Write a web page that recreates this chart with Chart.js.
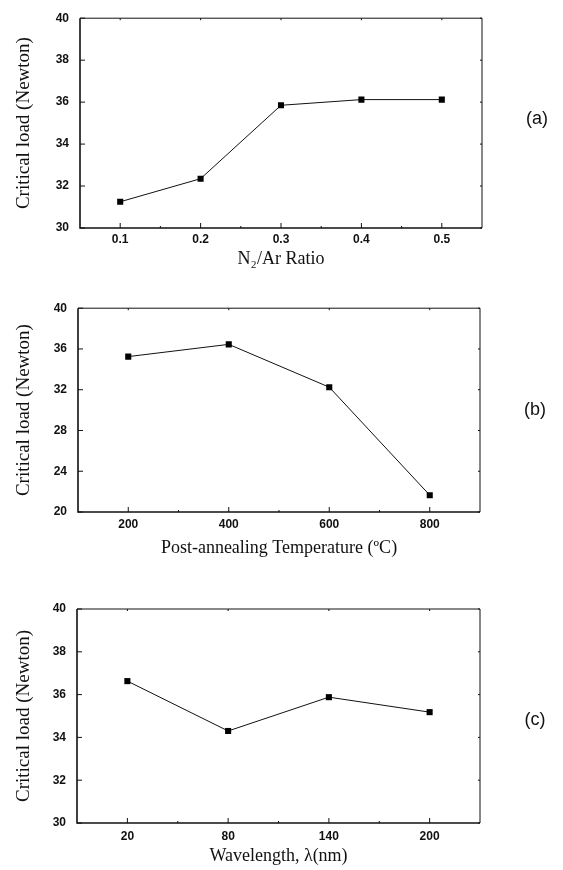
<!DOCTYPE html>
<html>
<head>
<meta charset="utf-8">
<script src="https://cdn.jsdelivr.net/npm/chart.js@4.4.1/dist/chart.umd.min.js"></script>
<style>
  body { margin: 0; background: #fff; }
  .panel { position: absolute; left: 0; width: 563px; height: 290px; }
</style>
</head>
<body>
<canvas id="chart-a" class="panel" width="563" height="290" style="top:0"></canvas>
<canvas id="chart-b" class="panel" width="563" height="290" style="top:290px"></canvas>
<canvas id="chart-c" class="panel" width="563" height="290" style="top:580px"></canvas>
<script>
// (a) critical load vs N2/Ar ratio
const ratioValues = [0.1, 0.2, 0.3, 0.4, 0.5];
const ratioLabels = ['0.1', '0.2', '0.3', '0.4', '0.5'];
const loadByRatio = [31.25, 32.35, 35.85, 36.12, 36.12];

// (b) critical load vs post-annealing temperature
const tempValues = [200, 400, 600, 800];
const tempLabels = ['200', '400', '600', '800'];
const loadByTemp = [35.25, 36.45, 32.25, 21.65];

// (c) critical load vs wavelength
const waveValues = [20, 80, 140, 200];
const waveLabels = ['20', '80', '140', '200'];
const loadByWave = [36.63, 34.3, 35.88, 35.18];

const tickFont = { family: 'Liberation Sans', size: 12, weight: 'bold' };
const titleFont = { family: 'Liberation Serif', size: 18, lineHeight: 1.2 };
const yTitleFont = { family: 'Liberation Serif', size: 19, lineHeight: 1.2 };

// frame + inward tick marks + panel letter
const framePlugin = {
    id: 'frame',
    afterDraw(chart, args, opts) {
        const ctx = chart.ctx;
        const a = chart.chartArea;
        const xs = chart.scales.x;
        const ys = chart.scales.y;
        ctx.save();
        ctx.strokeStyle = '#111';
        ctx.lineWidth = 1;
        ctx.beginPath();
        ctx.moveTo(a.left, a.top);
        ctx.lineTo(a.right, a.top);
        ctx.lineTo(a.right, a.bottom);
        ctx.stroke();
        ctx.lineWidth = 1.6;
        ctx.beginPath();
        ctx.moveTo(a.left, a.top);
        ctx.lineTo(a.left, a.bottom);
        ctx.lineTo(a.right, a.bottom);
        ctx.stroke();

        ctx.lineWidth = 1;
        ctx.beginPath();
        ys.ticks.forEach(t => {
            const y = ys.getPixelForValue(t.value);
            ctx.moveTo(a.left, y);
            ctx.lineTo(a.left + 5, y);
            ctx.moveTo(a.right, y);
            ctx.lineTo(a.right - 2, y);
        });
        xs.ticks.forEach((t, i) => {
            const x = xs.getPixelForValue(t.value);
            ctx.moveTo(x, a.bottom);
            ctx.lineTo(x, a.bottom - 5);
            ctx.moveTo(x, a.top);
            ctx.lineTo(x, a.top + 2);
            if (i > 0) {
                const m = xs.getPixelForValue((t.value + xs.ticks[i - 1].value) / 2);
                ctx.moveTo(m, a.bottom);
                ctx.lineTo(m, a.bottom - 2);
            }
        });
        ctx.stroke();

        ctx.fillStyle = '#111';
        ctx.font = '18px "Liberation Sans"';
        ctx.textAlign = 'center';
        ctx.textBaseline = 'middle';
        ctx.fillText(opts.letter, a.right + 55, (a.top + a.bottom) / 2 + opts.dy);
        ctx.restore();
    }
};

function makePanel(id, xVals, xLabels, yVals, cfg) {
    const ctx = document.getElementById(id).getContext('2d');
    return new Chart(ctx, {
        type: 'line',
        data: {
            datasets: [{
                data: xVals.map((x, i) => ({ x: x, y: yVals[i] })),
                borderColor: '#111',
                borderWidth: 1,
                tension: 0,
                pointStyle: 'rect',
                pointRadius: 4.3,
                pointBackgroundColor: '#000',
                pointBorderColor: '#000',
                pointBorderWidth: 0
            }]
        },
        options: {
            responsive: false,
            animation: false,
            layout: { padding: { top: cfg.top, right: cfg.right, left: 0, bottom: 0 } },
            plugins: {
                legend: { display: false },
                tooltip: { enabled: false },
                frame: { letter: cfg.letter, dy: cfg.letterDy }
            },
            scales: {
                x: {
                    type: 'linear',
                    min: cfg.xMin,
                    max: cfg.xMax,
                    afterBuildTicks: s => { s.ticks = xVals.map(v => ({ value: v })); },
                    afterFit: s => { s.height = cfg.xHeight; },
                    grid: { display: false, drawTicks: false },
                    border: { display: false },
                    ticks: {
                        color: '#111',
                        font: tickFont,
                        padding: cfg.xPad,
                        maxRotation: 0,
                        callback: (v, i) => xLabels[i]
                    },
                    title: {
                        display: true,
                        text: cfg.xTitle,
                        color: '#111',
                        font: titleFont,
                        padding: { top: 0, bottom: cfg.xTitlePad }
                    }
                },
                y: {
                    min: cfg.yMin,
                    max: cfg.yMax,
                    afterFit: s => { s.width = cfg.left; },
                    grid: { display: false, drawTicks: false },
                    border: { display: false },
                    ticks: {
                        stepSize: cfg.yStep,
                        color: '#111',
                        font: tickFont,
                        padding: 11
                    },
                    title: {
                        display: true,
                        text: 'Critical load (Newton)',
                        color: '#111',
                        font: yTitleFont,
                        padding: { top: 13, bottom: 0 }
                    }
                }
            }
        },
        plugins: [framePlugin]
    });
}

makePanel('chart-a', ratioValues, ratioLabels, loadByRatio, {
    letter: '(a)', letterDy: -4,
    xMin: 0.05, xMax: 0.55, yMin: 30, yMax: 40, yStep: 2,
    top: 15, right: 81, left: 80, xHeight: 62, xPad: 4, xTitlePad: 20,
    xTitle: 'N\u2082/Ar Ratio'
});

makePanel('chart-b', tempValues, tempLabels, loadByTemp, {
    letter: '(b)', letterDy: 0,
    xMin: 100, xMax: 900, yMin: 20, yMax: 40, yStep: 4,
    top: 9, right: 83, left: 78, xHeight: 68, xPad: 5, xTitlePad: 21,
    xTitle: 'Post-annealing Temperature (\u00baC)'
});

makePanel('chart-c', waveValues, waveLabels, loadByWave, {
    letter: '(c)', letterDy: 4,
    xMin: -10, xMax: 230, yMin: 30, yMax: 40, yStep: 2,
    top: 29, right: 83, left: 77, xHeight: 47, xPad: 6, xTitlePad: 3,
    xTitle: 'Wavelength, \u03bb(nm)'
});
</script>
</body>
</html>
